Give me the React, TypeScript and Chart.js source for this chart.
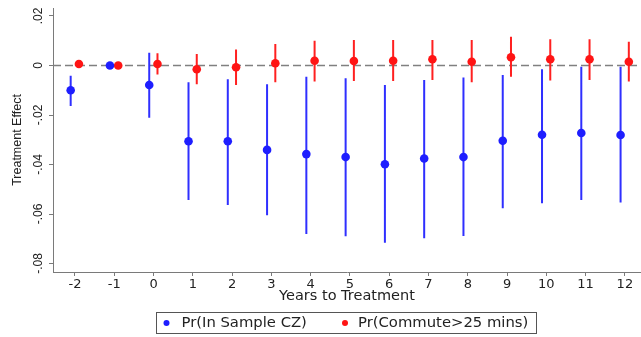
import React, { useEffect, useRef } from "react";
import { Chart, registerables } from "chart.js";

Chart.register(...registerables);

// ---- data ----
const years = [-2, -1, 0, 1, 2, 3, 4, 5, 6, 7, 8, 9, 10, 11, 12];
const xTickLabels = ["-2", "-1", "0", "1", "2", "3", "4", "5", "6", "7", "8", "9", "10", "11", "12"];
const yTicks = [-0.08, -0.06, -0.04, -0.02, 0, 0.02];
const yTickLabels = ["-.08", "-.06", "-.04", "-.02", "0", ".02"];
const seriesNames = ["Pr(In Sample CZ)", "Pr(Commute>25 mins)"];

const czEst = [-0.010, 0, -0.0079, -0.0306, -0.0306, -0.0341, -0.0358, -0.037, -0.0399, -0.0376, -0.037, -0.0304, -0.028, -0.0273, -0.0281];
const czLo = [-0.0164, null, -0.0211, -0.0543, -0.0564, -0.0605, -0.0681, -0.069, -0.0716, -0.0698, -0.0689, -0.0577, -0.0557, -0.0543, -0.0554];
const czHi = [-0.0041, null, 0.0052, -0.0068, -0.0056, -0.0076, -0.0045, -0.0052, -0.0079, -0.0059, -0.0048, -0.0038, -0.0015, -0.0005, -0.0005];

const commEst = [0.0006, 0, 0.0006, -0.0015, -0.0007, 0.0009, 0.0019, 0.0018, 0.0019, 0.0025, 0.0015, 0.0033, 0.0025, 0.0025, 0.0015];
const commLo = [null, null, -0.0036, -0.0076, -0.0079, -0.0068, -0.0065, -0.0063, -0.0063, -0.0059, -0.0068, -0.0045, -0.0061, -0.0059, -0.0065];
const commHi = [null, null, 0.0049, 0.0046, 0.0065, 0.0087, 0.0100, 0.0103, 0.0103, 0.0103, 0.0103, 0.0116, 0.0106, 0.0106, 0.0096];

// ---- styling ----
const BLUE = "#1e1eff";
const RED = "#ff1414";
const BLUE_BAR = "#2f2fff";
const RED_BAR = "#ff2020";
const AXIS = "#7a7a7a";
const TEXT = "#222222";
const WIDE = "'DejaVu Sans', sans-serif";
const NARROW = "'Liberation Sans', Arial, sans-serif";
const X_MIN = -2.56;
const X_MAX = 12.41;
const BLUE_OFF = -0.11;
const RED_OFF = 0.1;

function pointData(est: number[], off: number) {
  return years.map((yr, i) => ({ x: yr + off, y: est[i] }));
}

function barData(lo: (number | null)[], hi: (number | null)[], off: number) {
  const out: any[] = [];
  years.forEach((yr, i) => {
    if (lo[i] == null || hi[i] == null) return;
    out.push({ x: yr + off, y: lo[i] }, { x: yr + off, y: hi[i] }, { x: yr + off, y: null });
  });
  return out;
}

const legendBoxPlugin = {
  id: "legendBox",
  afterDraw(chart: any) {
    const ctx = chart.ctx;
    const ds = chart.data.datasets;
    ctx.save();
    ctx.strokeStyle = "#555";
    ctx.lineWidth = 1;
    ctx.strokeRect(156.5, 312.5, 380, 21);
    ctx.font = `14.8px ${WIDE}`;
    ctx.textBaseline = "middle";
    ctx.textAlign = "left";
    const cy = 323;
    const items = [
      { dx: 166.5, tx: 181.5, i: 0 },
      { dx: 345, tx: 358, i: 1 },
    ];
    items.forEach((it) => {
      ctx.fillStyle = ds[it.i].backgroundColor;
      ctx.beginPath();
      ctx.arc(it.dx, cy, 3, 0, Math.PI * 2);
      ctx.fill();
      ctx.fillStyle = TEXT;
      ctx.fillText(ds[it.i].label, it.tx, cy);
    });
    ctx.restore();
  },
};

export default function App() {
  const ref = useRef<HTMLCanvasElement>(null);

  useEffect(() => {
    document.body.style.margin = "0";
    const canvas = ref.current;
    if (!canvas) return;
    const chart = new Chart(canvas, {
      type: "scatter",
      data: {
        datasets: [
          {
            label: seriesNames[0],
            data: pointData(czEst, BLUE_OFF),
            backgroundColor: BLUE,
            borderColor: BLUE,
            pointRadius: 4.3,
            pointHoverRadius: 4.3,
            borderWidth: 0,
            order: 1,
          },
          {
            label: seriesNames[1],
            data: pointData(commEst, RED_OFF),
            backgroundColor: RED,
            borderColor: RED,
            pointRadius: 4.3,
            pointHoverRadius: 4.3,
            borderWidth: 0,
            order: 1,
          },
          {
            label: "ci-cz",
            data: barData(czLo, czHi, BLUE_OFF),
            showLine: true,
            spanGaps: false,
            borderColor: BLUE_BAR,
            borderWidth: 2,
            pointRadius: 0,
            order: 2,
          },
          {
            label: "ci-comm",
            data: barData(commLo, commHi, RED_OFF),
            showLine: true,
            spanGaps: false,
            borderColor: RED_BAR,
            borderWidth: 2,
            pointRadius: 0,
            order: 2,
          },
          {
            label: "zero",
            data: [{ x: X_MIN, y: 0 }, { x: X_MAX, y: 0 }],
            showLine: true,
            borderColor: "#808080",
            borderWidth: 1.5,
            borderDash: [8, 4],
            pointRadius: 0,
            order: 3,
          },
        ] as any,
      },
      options: {
        animation: false,
        responsive: false,
        maintainAspectRatio: false,
        layout: { autoPadding: false, padding: { top: 8, right: 0, bottom: 32, left: 0 } },
        plugins: {
          legend: { display: false },
          tooltip: { enabled: false },
        },
        scales: {
          x: {
            type: "linear",
            min: X_MIN,
            max: X_MAX,
            afterBuildTicks: (s: any) => {
              s.ticks = years.map((v) => ({ value: v }));
            },
            afterFit: (s: any) => {
              s.height = 33;
            },
            ticks: {
              callback: (_v: any, i: number) => xTickLabels[i],
              font: { size: 13, family: WIDE },
              color: TEXT,
              padding: 1,
              maxRotation: 0,
              autoSkip: false,
            },
            grid: { drawOnChartArea: false, drawTicks: true, tickLength: 4, color: AXIS },
            border: { color: AXIS, width: 1 },
            title: {
              display: true,
              text: "Years to Treatment",
              font: { size: 14.5, family: WIDE },
              color: TEXT,
              padding: { top: 0, bottom: 0 },
            },
          },
          y: {
            type: "linear",
            min: -0.08343,
            max: 0.02323,
            afterBuildTicks: (s: any) => {
              s.ticks = yTicks.map((v) => ({ value: v }));
            },
            afterFit: (s: any) => {
              s.width = 53;
            },
            ticks: {
              callback: (_v: any, i: number) => yTickLabels[i],
              font: { size: 12, family: NARROW },
              color: TEXT,
              padding: 0,
              minRotation: 90,
              maxRotation: 90,
              crossAlign: "center",
              autoSkip: false,
            },
            grid: { drawOnChartArea: false, drawTicks: true, tickLength: 4, color: AXIS },
            border: { color: AXIS, width: 1 },
            title: {
              display: true,
              text: "Treatment Effect",
              font: { size: 12.5, family: NARROW },
              color: TEXT,
              padding: { top: 10, bottom: 0 },
            },
          },
        },
      } as any,
      plugins: [legendBoxPlugin],
    });
    return () => chart.destroy();
  }, []);

  return (
    <div style={{ width: 641, height: 337, background: "#fff" }}>
      <canvas ref={ref} width={641} height={337} style={{ display: "block" }} />
    </div>
  );
}
